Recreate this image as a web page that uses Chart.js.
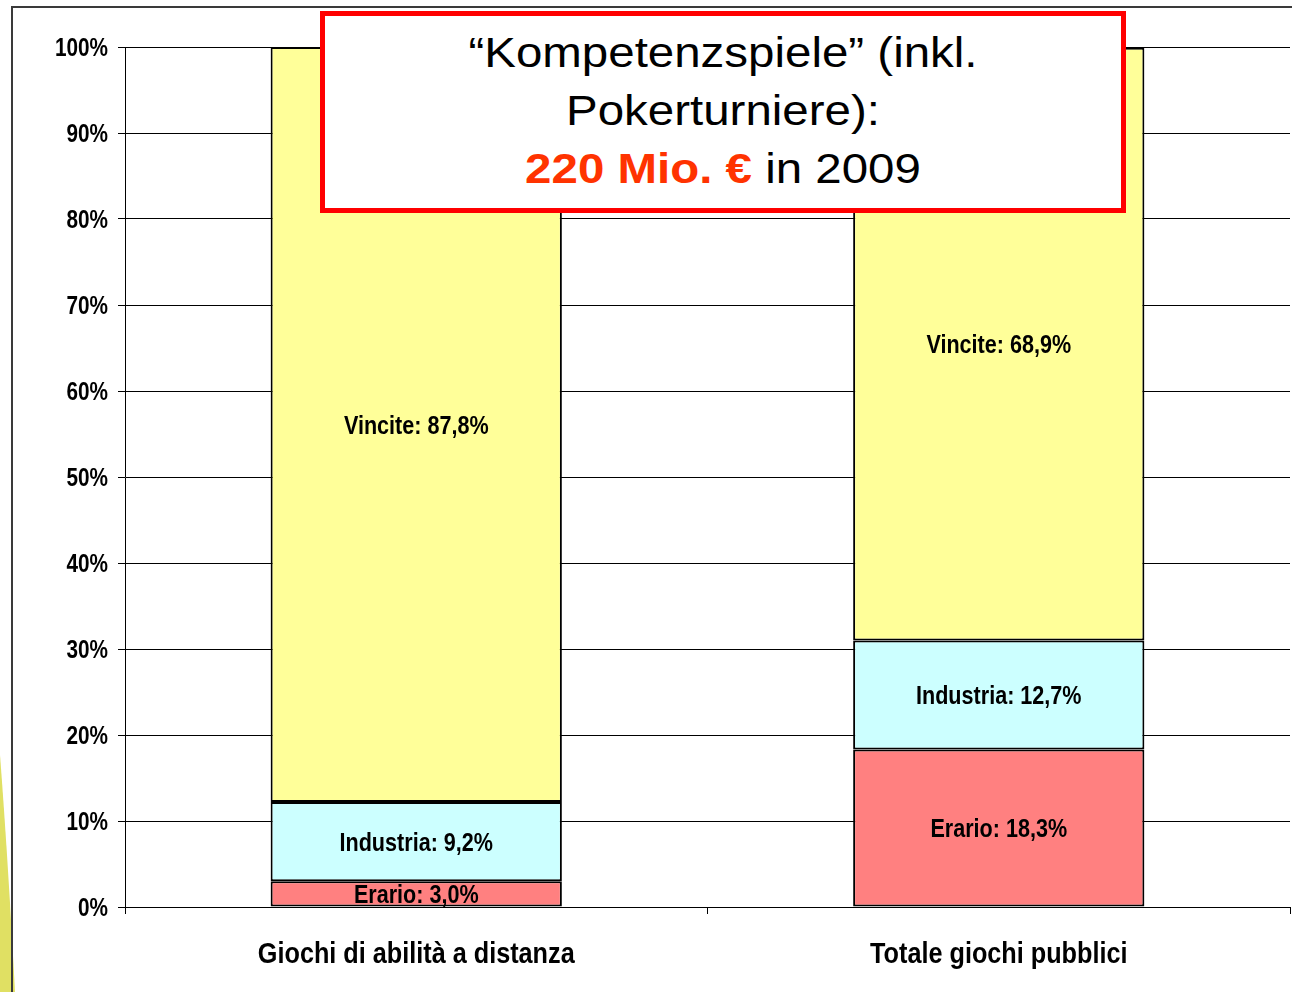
<!DOCTYPE html>
<html>
<head>
<meta charset="utf-8">
<script src="https://cdn.jsdelivr.net/npm/chart.js@4.4.1/dist/chart.umd.min.js"></script>
<style>
  body { margin: 0; background: #fff; }
  #wrap { position: relative; width: 1292px; height: 992px; }
  #box {
    position: absolute; left: 320px; top: 11px; width: 796px; height: 184px;
    border: 5px solid #ff0000; background: #fff;
    font-family: "Liberation Sans", Arial, sans-serif; font-size: 42px;
    line-height: 58px; text-align: center; color: #000;
    padding-top: 8px; overflow: hidden;
  }
  #box div { transform: scaleX(1.13); transform-origin: 50% 50%; }
  #box b { color: #ff3300; }
</style>
</head>
<body>
<div id="wrap">
  <canvas id="grafico" width="1292" height="992"></canvas>
  <div id="box"><div>“Kompetenzspiele” (inkl.<br>Pokerturniere):<br><b>220 Mio. €</b> in 2009</div></div>
</div>
<script>
const categorie = ['Giochi di abilità a distanza', 'Totale giochi pubblici'];
const erario = [3.0, 18.3];
const industria = [9.2, 12.7];
const vincite = [87.8, 68.9];
const tickValues = [0, 10, 20, 30, 40, 50, 60, 70, 80, 90, 100];
const tickLabels = ['0%', '10%', '20%', '30%', '40%', '50%', '60%', '70%', '80%', '90%', '100%'];

const font = '"Liberation Sans", Arial, sans-serif';

// testo "narrow": Arial compresso in orizzontale
function testoStretto(c, txt, x, y, size, sx, align) {
  c.save();
  c.font = 'bold ' + size + 'px ' + font;
  c.textAlign = align;
  c.textBaseline = 'alphabetic';
  c.translate(x, y);
  c.scale(sx, 1);
  c.fillText(txt, 0, 0);
  c.restore();
}

// etichette dentro le barre
const etichette = {
  id: 'etichette',
  afterDatasetsDraw(chart) {
    const c = chart.ctx;
    c.fillStyle = '#000';
    chart.data.datasets.forEach((ds, i) => {
      chart.getDatasetMeta(i).data.forEach((bar, j) => {
        const v = ds.data[j].toFixed(1).replace('.', ',');
        testoStretto(c, ds.label + ': ' + v + '%', bar.x, (bar.y + bar.base) / 2 + 9, 26, 0.83, 'center');
      });
    });
  }
};

// etichette degli assi
const assi = {
  id: 'assi',
  afterDraw(chart) {
    const c = chart.ctx;
    const x = chart.scales.x, y = chart.scales.y;
    c.fillStyle = '#000';
    tickValues.forEach((v, i) => {
      testoStretto(c, tickLabels[i], x.left - 17, y.getPixelForValue(v) + 9, 25, 0.83, 'right');
    });
    categorie.forEach((lab, i) => {
      testoStretto(c, lab, x.getPixelForValue(i), 963, 29, 0.87, 'center');
    });
  }
};

// cornice della slide e triangolo giallo in basso a sinistra
const cornice = {
  id: 'cornice',
  beforeDraw(chart) {
    const c = chart.ctx;
    c.save();
    c.fillStyle = '#e0e063';
    c.beginPath();
    c.moveTo(0, 755);
    c.quadraticCurveTo(8, 860, 15, 992);
    c.lineTo(0, 992);
    c.closePath();
    c.fill();
    c.strokeStyle = '#3a3a3a';
    c.lineWidth = 2;
    c.beginPath();
    c.moveTo(12, 992);
    c.lineTo(12, 7);
    c.lineTo(1292, 7);
    c.stroke();
    c.restore();
  }
};

new Chart(document.getElementById('grafico').getContext('2d'), {
  type: 'bar',
  data: {
    labels: categorie,
    datasets: [
      { label: 'Erario', data: erario, backgroundColor: '#ff8080' },
      { label: 'Industria', data: industria, backgroundColor: '#ccffff' },
      { label: 'Vincite', data: vincite, backgroundColor: '#ffff99' }
    ].map(d => Object.assign(d, {
      borderColor: '#000', borderWidth: 2, borderSkipped: false,
      barPercentage: 0.5, categoryPercentage: 1
    }))
  },
  options: {
    responsive: false,
    animation: false,
    layout: { padding: { top: 47, right: 2, left: 0, bottom: 0 } },
    plugins: { legend: { display: false }, tooltip: { enabled: false } },
    scales: {
      x: {
        stacked: true,
        afterFit: s => { s.height = 85; },
        grid: { drawOnChartArea: false, color: '#000', tickLength: 7 },
        border: { color: '#000', width: 1 },
        ticks: { display: false }
      },
      y: {
        stacked: true,
        min: 0, max: 100,
        afterFit: s => { s.width = 125; },
        grid: { color: '#000', tickLength: 7 },
        border: { color: '#000', width: 1 },
        ticks: { stepSize: 10, display: false }
      }
    }
  },
  plugins: [cornice, etichette, assi]
});
</script>
</body>
</html>
